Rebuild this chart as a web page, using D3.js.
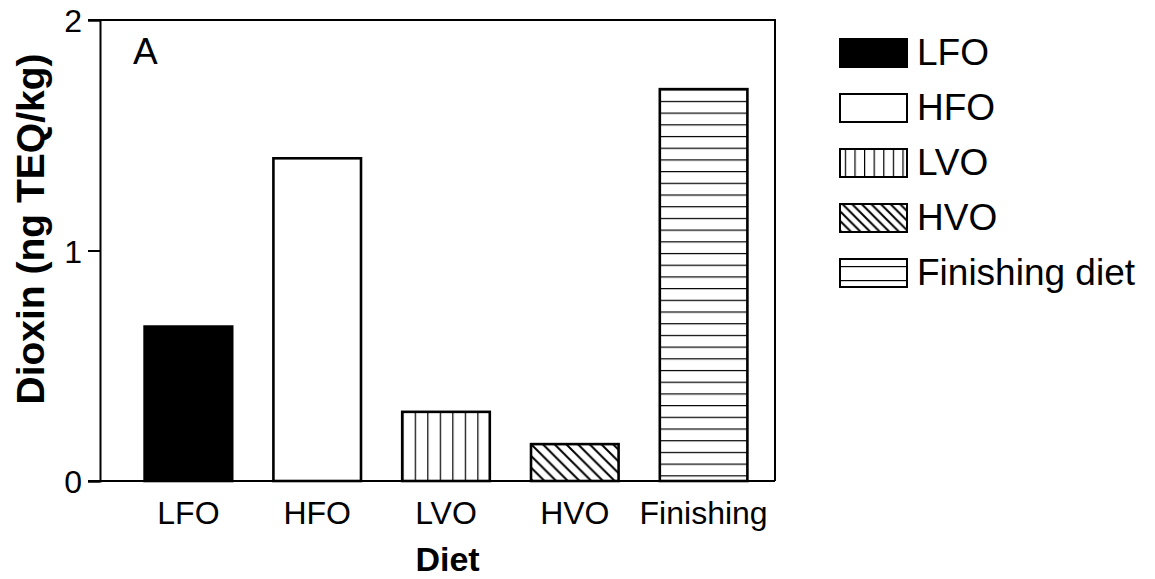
<!DOCTYPE html>
<html>
<head>
<meta charset="utf-8">
<script src="https://cdn.jsdelivr.net/npm/d3@7"></script>
<style>
  body { margin: 0; background: #fff; }
  text { font-family: "Liberation Sans", Arial, sans-serif; fill: #000; }
</style>
</head>
<body>
<div id="chart"></div>
<script>
// data
const categories = ['LFO', 'HFO', 'LVO', 'HVO', 'Finishing'];
const values = [0.67, 1.40, 0.30, 0.16, 1.70];
const fills = ['solid', 'none', 'vert', 'diag', 'horiz'];
const legendLabels = ['LFO', 'HFO', 'LVO', 'HVO', 'Finishing diet'];
const yTicks = [0, 1, 2];

const width = 1155;
const height = 579;

const svg = d3.select('#chart')
  .append('svg')
  .attr('width', width)
  .attr('height', height);

const defs = svg.append('defs');

// plot frame
const plotLeft = 100, plotRight = 775, plotTop = 20, plotBottom = 481;

const x = d3.scaleBand()
  .domain(categories)
  .range([124, 768])
  .paddingInner(0.32)
  .paddingOuter(0.16);

const y = d3.scaleLinear()
  .domain([0, 2])
  .range([plotBottom, plotTop]);

// hatch patterns, anchored on the shape they fill
function makePattern(id, kind, x0, y0, s) {
  const p = defs.append('pattern')
    .attr('id', id)
    .attr('patternUnits', 'userSpaceOnUse')
    .attr('x', x0)
    .attr('y', y0)
    .attr('width', s)
    .attr('height', s);
  p.append('rect').attr('width', s).attr('height', s).attr('fill', '#fff');
  let d;
  if (kind === 'vert') d = `M0,0L0,${s}`;
  else if (kind === 'horiz') d = `M0,0L${s},0`;
  else d = `M0,0L${s},${s}M${-s * 0.25},${s * 0.75}L${s * 0.25},${s * 1.25}M${s * 0.75},${-s * 0.25}L${s * 1.25},${s * 0.25}`;
  p.append('path')
    .attr('d', d)
    .attr('stroke', '#000')
    .attr('stroke-width', kind === 'diag' ? 2 : 2.4)
    .attr('fill', 'none');
  return `url(#${id})`;
}

function fillFor(kind, id, x0, y0, s) {
  if (kind === 'solid') return '#000';
  if (kind === 'none') return '#fff';
  return makePattern(id, kind, x0, y0, s);
}

// bars
svg.append('g')
  .selectAll('rect')
  .data(categories)
  .join('rect')
    .attr('x', (d) => x(d))
    .attr('y', (d, i) => y(values[i]))
    .attr('width', x.bandwidth())
    .attr('height', (d, i) => y(0) - y(values[i]))
    .attr('fill', (d, i) => {
      const s = fills[i] === 'vert' ? x.bandwidth() / 7 : 11.7;
      return fillFor(fills[i], 'bar' + i, x(d), y(values[i]), s);
    })
    .attr('stroke', '#000')
    .attr('stroke-width', 2.6);

// frame: top and right borders
svg.append('path')
  .attr('d', `M${plotLeft - 12},${plotTop}L${plotRight},${plotTop}L${plotRight},${plotBottom}`)
  .attr('fill', 'none')
  .attr('stroke', '#000')
  .attr('stroke-width', 2);

// y axis
const yAxis = svg.append('g')
  .attr('transform', `translate(${plotLeft},0)`)
  .call(d3.axisLeft(y).tickValues(yTicks).tickFormat(d3.format('d')).tickSize(12).tickPadding(6));
yAxis.select('.domain').attr('stroke-width', 2);
yAxis.selectAll('.tick line').attr('stroke-width', 2);
yAxis.selectAll('.tick text')
  .style('font-size', '32px')
  .attr('dy', '0.36em');

// x axis: line plus labels, no tick marks
const xAxis = svg.append('g')
  .attr('transform', `translate(0,${plotBottom})`)
  .call(d3.axisBottom(x).tickSize(0));
xAxis.select('.domain').remove();
xAxis.selectAll('.tick text')
  .style('font-size', '32px')
  .attr('dy', null)
  .attr('y', 43);
svg.append('line')
  .attr('x1', plotLeft - 12)
  .attr('x2', plotRight)
  .attr('y1', plotBottom)
  .attr('y2', plotBottom)
  .attr('stroke', '#000')
  .attr('stroke-width', 2);

// axis titles
svg.append('text')
  .attr('x', 447.5)
  .attr('y', 571)
  .attr('text-anchor', 'middle')
  .style('font-size', '34px')
  .style('font-weight', 'bold')
  .text('Diet');

svg.append('text')
  .attr('transform', 'translate(44,229) rotate(-90)')
  .attr('text-anchor', 'middle')
  .style('font-size', '39px')
  .style('font-weight', 'bold')
  .text('Dioxin (ng TEQ/kg)');

// panel letter
svg.append('text')
  .attr('x', 133)
  .attr('y', 64)
  .style('font-size', '37px')
  .text('A');

// legend
const legend = svg.append('g')
  .selectAll('g')
  .data(legendLabels)
  .join('g')
    .attr('transform', (d, i) => `translate(840,${39 + i * 55})`);

legend.append('rect')
  .attr('width', 67)
  .attr('height', 28)
  .attr('fill', (d, i) => {
    const s = fills[i] === 'horiz' ? 14 : 9.6;
    return fillFor(fills[i], 'leg' + i, 840, 39 + i * 55, s);
  })
  .attr('stroke', '#000')
  .attr('stroke-width', 2);

legend.append('text')
  .attr('x', 77)
  .attr('y', 26)
  .style('font-size', '37px')
  .text((d) => d);
</script>
</body>
</html>
